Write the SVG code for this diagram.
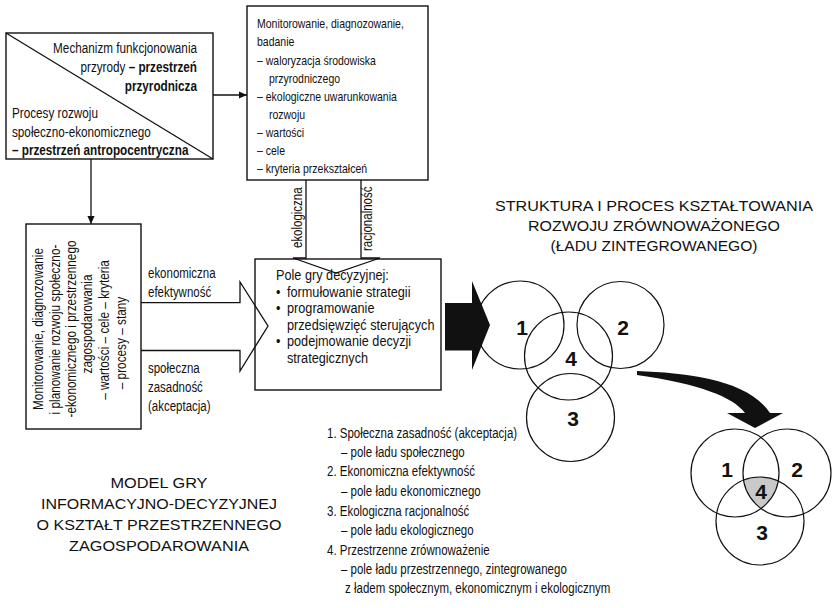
<svg xmlns="http://www.w3.org/2000/svg" width="832" height="608" viewBox="0 0 832 608">
<style>
 .box{fill:#fff;stroke:#111;stroke-width:1.4}
 .ln{fill:none;stroke:#111;stroke-width:1.3}
 .t{font-family:"Liberation Sans",Arial,Helvetica,sans-serif;fill:#111}
 .b{font-weight:bold}
 .circ{fill:none;stroke:#111;stroke-width:1.2}
 .num{font-family:"Liberation Sans",Arial,Helvetica,sans-serif;font-weight:bold;font-size:21px;fill:#111;text-anchor:middle}
</style>
<defs>
 <marker id="ah" viewBox="0 0 10 10" refX="10" refY="5" markerWidth="9" markerHeight="8" markerUnits="userSpaceOnUse" orient="auto">
  <path d="M0,0.5 L10,5 L0,9.5 Z" fill="#111"/>
 </marker>
 <clipPath id="cA"><circle cx="735" cy="473" r="44"/></clipPath>
 <clipPath id="cB"><circle cx="760" cy="521" r="44"/></clipPath>
</defs>
<rect x="0" y="0" width="832" height="608" fill="#fff"/>

<g id="connectors">
 <line class="ln" x1="213" y1="95" x2="247" y2="95" marker-end="url(#ah)"/>
 <line class="ln" x1="91" y1="159" x2="91" y2="224" marker-end="url(#ah)"/>
 <polyline class="ln" points="141,302.7 240,302.7 240,282 268,326 240,371 240,350.5 141,350.5"/>
 <polyline class="ln" points="306,180 306,258 293,258 336,273 380,258 361,258 361,180"/>
 <polygon points="445,303 472,303 472,281 490,325 472,370 472,350.5 445,350.5" fill="#111"/>
 <path d="M637,371 C690,373 748,380 770,413 L783,413 L755,428 L727,413 L745,413 C733,397 700,384 637,375 Z" fill="#111"/>
</g>

<g id="node-przestrzen">
 <rect class="box" x="6" y="33" width="207" height="126"/>
 <line class="ln" x1="6" y1="33" x2="213" y2="159"/>
 <g class="t" font-size="14.3" text-anchor="end" transform="translate(197,0) scale(0.82,1)">
  <text y="53">Mechanizm funkcjonowania</text>
  <text y="72">przyrody <tspan class="b">– przestrzeń</tspan></text>
  <text y="91" class="b">przyrodnicza</text>
 </g>
 <g class="t" font-size="14.3" transform="translate(12,0) scale(0.82,1)">
  <text y="118">Procesy rozwoju</text>
  <text y="137">społeczno-ekonomicznego</text>
  <text y="155" class="b">– przestrzeń antropocentryczna</text>
 </g>
</g>

<g id="node-monitorowanie">
 <rect class="box" x="247" y="6" width="181" height="174"/>
 <g class="t" font-size="12.8" transform="translate(257,0) scale(0.82,1)">
  <text y="28">Monitorowanie, diagnozowanie,</text>
  <text y="46">badanie</text>
  <text y="65">– waloryzacja środowiska</text>
  <text x="14.6" y="83">przyrodniczego</text>
  <text y="101.5">– ekologiczne uwarunkowania</text>
  <text x="14.6" y="119.5">rozwoju</text>
  <text y="137.5">– wartości</text>
  <text y="155">– cele</text>
  <text y="173">– kryteria przekształceń</text>
 </g>
</g>

<g id="node-planowanie">
 <rect class="box" x="26" y="224" width="115" height="205"/>
 <g class="t" font-size="14.4" text-anchor="middle">
  <text transform="translate(43,329) rotate(-90) scale(0.82,1)">Monitorowanie, diagnozowanie</text>
  <text transform="translate(59.5,329.5) rotate(-90) scale(0.82,1)">i planowanie rozwoju społeczno-</text>
  <text transform="translate(76,329) rotate(-90) scale(0.82,1)">-ekonomicznego i przestrzennego</text>
  <text transform="translate(92,324) rotate(-90) scale(0.82,1)">zagospodarowania</text>
  <text transform="translate(109,330) rotate(-90) scale(0.82,1)">– wartości – cele – kryteria</text>
  <text transform="translate(125.5,343) rotate(-90) scale(0.82,1)">– procesy – stany</text>
 </g>
</g>

<g id="labels-arrows" class="t" font-size="14">
 <g transform="translate(148,0) scale(0.82,1)">
  <text y="278">ekonomiczna</text>
  <text y="297">efektywność</text>
  <text y="373">społeczna</text>
  <text y="392.5">zasadność</text>
  <text y="411.5">(akceptacja)</text>
 </g>
 <text transform="translate(302,248) rotate(-90) scale(0.82,1)">ekologiczna</text>
 <text transform="translate(372,251) rotate(-90) scale(0.82,1)">racjonalność</text>
</g>

<g id="node-pole-gry">
 <rect class="box" x="255" y="259" width="186" height="131" fill="none" style="fill:none"/>
 <g class="t" font-size="15.5" transform="translate(276,0) scale(0.82,1)">
  <text y="280.5">Pole gry decyzyjnej:</text>
  <text y="297">•</text><text x="13.4" y="297">formułowanie strategii</text>
  <text y="313.5">•</text><text x="13.4" y="313.5">programowanie</text>
  <text x="13.4" y="330">przedsięwzięć sterujących</text>
  <text y="346.5">•</text><text x="13.4" y="346.5">podejmowanie decyzji</text>
  <text x="13.4" y="363">strategicznych</text>
 </g>
</g>

<g id="title-struktura" class="t" font-size="15" text-anchor="middle">
 <text x="654" y="211" textLength="318" lengthAdjust="spacingAndGlyphs">STRUKTURA I PROCES KSZTAŁTOWANIA</text>
 <text x="654" y="231" textLength="252" lengthAdjust="spacingAndGlyphs">ROZWOJU ZRÓWNOWAŻONEGO</text>
 <text x="654" y="250.5" textLength="207" lengthAdjust="spacingAndGlyphs">(ŁADU ZINTEGROWANEGO)</text>
</g>

<g id="venn-struktura">
 <circle class="circ" cx="520" cy="325" r="44"/>
 <circle class="circ" cx="620.5" cy="325" r="43.5"/>
 <circle class="circ" cx="568.5" cy="356" r="44"/>
 <circle class="circ" cx="570.5" cy="417.5" r="44"/>
 <text class="num" x="522" y="335">1</text>
 <text class="num" x="623" y="335">2</text>
 <text class="num" x="571" y="366">4</text>
 <text class="num" x="573" y="426">3</text>
</g>

<g id="venn-lad">
 <g clip-path="url(#cA)"><circle cx="787" cy="473" r="44" fill="#c9c9c9" clip-path="url(#cB)"/></g>
 <circle class="circ" cx="735" cy="473" r="44"/>
 <circle class="circ" cx="787" cy="473" r="44"/>
 <circle class="circ" cx="760" cy="521" r="44"/>
 <text class="num" x="727" y="477">1</text>
 <text class="num" x="797" y="477">2</text>
 <text class="num" x="761" y="499">4</text>
 <text class="num" x="762" y="540">3</text>
</g>

<g id="legend" class="t" font-size="14" transform="translate(327,0) scale(0.82,1)">
 <text y="438">1. Społeczna zasadność (akceptacja)</text>
 <text x="17" y="457">– pole ładu społecznego</text>
 <text y="476.5">2. Ekonomiczna efektywność</text>
 <text x="17" y="496">– pole ładu ekonomicznego</text>
 <text y="516">3. Ekologiczna racjonalność</text>
 <text x="17" y="535">– pole ładu ekologicznego</text>
 <text y="555">4. Przestrzenne zrównoważenie</text>
 <text x="17" y="574.5">– pole ładu przestrzennego, zintegrowanego</text>
 <text x="22" y="593.5">z ładem społecznym, ekonomicznym i ekologicznym</text>
</g>

<g id="title-model" class="t" font-size="15" text-anchor="middle">
 <text x="159" y="488" textLength="97" lengthAdjust="spacingAndGlyphs">MODEL GRY</text>
 <text x="159" y="509" textLength="236" lengthAdjust="spacingAndGlyphs">INFORMACYJNO-DECYZYJNEJ</text>
 <text x="159" y="530" textLength="245" lengthAdjust="spacingAndGlyphs">O KSZTAŁT PRZESTRZENNEGO</text>
 <text x="159" y="550.5" textLength="180" lengthAdjust="spacingAndGlyphs">ZAGOSPODAROWANIA</text>
</g>
</svg>
